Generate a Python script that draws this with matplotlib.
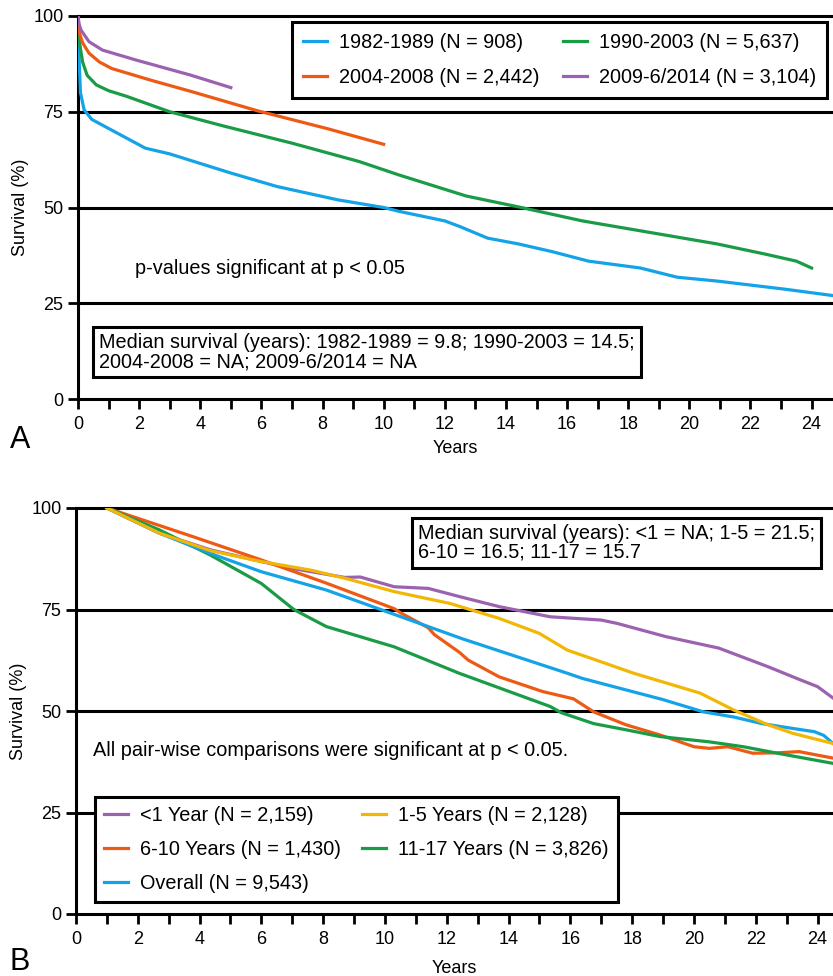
import matplotlib
matplotlib.use("Agg")
import matplotlib.pyplot as plt
from matplotlib.ticker import MultipleLocator
from matplotlib.lines import Line2D

plt.rcParams['font.family'] = ['Liberation Sans', 'DejaVu Sans']

# ---------------- Panel A data ----------------
a_labels = ["1982-1989 (N = 908)", "1990-2003 (N = 5,637)",
            "2004-2008 (N = 2,442)", "2009-6/2014 (N = 3,104)"]
a_1982_t = [0, 0.03, 0.08, 0.2, 0.45, 0.8, 1.5, 2.2, 3.0, 4.0, 5.0, 6.5, 8.5, 10.0, 10.5,
            12.0, 12.5, 13.4, 14.4, 15.5, 16.7, 18.4, 19.6, 20.9, 23.1, 24.7]
a_1982_s = [100, 90, 80, 75.5, 73, 71.5, 68.5, 65.5, 64, 61.5, 59, 55.5, 52, 50, 49,
            46.5, 45, 42, 40.5, 38.5, 36, 34.2, 31.8, 30.8, 28.7, 27]
a_1990_t = [0, 0.05, 0.15, 0.3, 0.6, 1.0, 1.6, 3.0, 4.8, 7.0, 9.2, 10.5, 12.7, 14.5,
            16.5, 18.7, 20.9, 22.5, 23.5, 24.0]
a_1990_s = [100, 93, 88, 84.5, 82, 80.5, 79, 75, 71.2, 66.8, 62, 58.5, 53, 50,
            46.5, 43.5, 40.5, 37.8, 36, 34.2]
a_2004_t = [0, 0.05, 0.15, 0.36, 0.7, 1.1, 2.4, 3.7, 5.85, 8.2, 10.0]
a_2004_s = [100, 95.5, 93, 90.3, 88, 86.3, 83.2, 80.3, 75.3, 70.5, 66.5]
a_2009_t = [0, 0.03, 0.1, 0.36, 0.8, 1.9, 3.67, 5.0]
a_2009_s = [100, 98, 96.3, 93.3, 91.1, 88.5, 84.6, 81.3]

# ---------------- Panel B data ----------------
b_labels = ["<1 Year (N = 2,159)", "1-5 Years (N = 2,128)", "6-10 Years (N = 1,430)",
            "11-17 Years (N = 3,826)", "Overall (N = 9,543)"]
b_lt1_t = [1, 2.7, 4.35, 6, 7, 8.7, 9.2, 10.3, 11.4, 12.4, 13.7, 15.35, 17, 17.5, 19.1,
           20.8, 22.4, 23.4, 24.0, 24.5]
b_lt1_s = [100, 93.8, 89.7, 86.8, 85.1, 82.9, 83, 80.6, 80.2, 78.2, 75.7, 73.2, 72.4, 71.6,
           68.3, 65.5, 60.9, 57.8, 56, 53.2]
b_1to5_t = [1, 2.7, 4.35, 6, 7.6, 8.7, 10.3, 12.1, 13.7, 15.0, 15.9, 17.0, 18.05, 20.2,
            21.3, 22.4, 23.2, 24.5]
b_1to5_s = [100, 93.8, 89.5, 86.8, 84.7, 82.7, 79.4, 76.5, 72.8, 69.1, 65.0, 62.1, 59.3,
            54.4, 50.2, 46.6, 44.5, 42.0]
b_6to10_t = [1, 3.8, 6, 8.1, 10.3, 10.5, 11.4, 11.6, 12.4, 12.7, 13.7, 15.1, 16.1, 16.75,
             17.8, 18.9, 20.0, 20.5, 21.1, 21.9, 22.7, 23.4, 24.5]
b_6to10_s = [100, 92.9, 87.2, 81.5, 75.2, 74.2, 70.5, 68.8, 64.5, 62.5, 58.4, 54.8, 53.0,
             49.8, 46.6, 44.1, 41.2, 40.8, 41.2, 39.6, 39.7, 40.0, 38.4]
b_11to17_t = [1, 2.7, 4.35, 6, 7.05, 8.1, 10.3, 12.4, 15.35, 15.7, 16.4, 16.75, 17.85,
              18.9, 20.5, 21.6, 22.7, 24.5]
b_11to17_s = [100, 94.6, 88.4, 81.4, 75, 70.8, 65.8, 59.3, 51.1, 49.6, 47.8, 46.9, 45.3,
              43.7, 42.4, 41.2, 39.6, 37.1]
b_all_t = [1, 2.7, 4.35, 6, 8.1, 10.3, 12.5, 15.9, 16.4, 19.0, 20.3, 21.3, 22.2, 23.2,
           23.9, 24.2, 24.5]
b_all_s = [100, 93.8, 88.8, 84.3, 79.8, 73.8, 67.8, 59.3, 58, 52.8, 49.8, 48.5, 46.9,
           45.7, 44.9, 44.0, 42.0]

yticks = [0, 25, 50, 75, 100]

C_BLUE = "#14a3e6"
C_GREEN = "#1a9b46"
C_ORANGE = "#ee5a14"
C_PURPLE = "#9b62b0"
C_YELLOW = "#f2b705"

LW = 2.3
FS = 14.3

fig = plt.figure(figsize=(8.33, 9.76), dpi=100)
W, H = 833.0, 976.0

axA = fig.add_axes([78 / W, 1 - 399 / H, (833 - 78) / W, (399 - 16) / H])
axB = fig.add_axes([76 / W, 1 - 914 / H, (833 - 76) / W, (914 - 508) / H])


def style(ax, xmax, xlabelpad):
    ax.set_xlim(0, xmax)
    ax.set_ylim(0, 100)
    for s in ["top", "right"]:
        ax.spines[s].set_visible(False)
    for s in ["left", "bottom"]:
        ax.spines[s].set_linewidth(2.2)
        ax.spines[s].set_color("black")
    for y in [25, 50, 75, 100]:
        ax.axhline(y, color="black", lw=2.2, clip_on=False, zorder=1)
    ax.xaxis.set_major_locator(MultipleLocator(2))
    ax.xaxis.set_minor_locator(MultipleLocator(1))
    ax.set_yticks(yticks)
    ax.tick_params(axis="both", which="both", direction="out", length=7, width=2,
                   labelsize=13, color="black")
    ax.tick_params(axis="x", pad=5)
    ax.set_xlabel("Years", fontsize=13, labelpad=xlabelpad)
    ax.set_ylabel("Survival (%)", fontsize=13, labelpad=3)


style(axA, 24.7, 5)
style(axB, 24.5, 9)

# Panel A curves
axA.plot(a_1982_t, a_1982_s, color=C_BLUE, lw=LW, zorder=3, solid_joinstyle="round")
axA.plot(a_1990_t, a_1990_s, color=C_GREEN, lw=LW, zorder=3, solid_joinstyle="round")
axA.plot(a_2004_t, a_2004_s, color=C_ORANGE, lw=LW, zorder=3, solid_joinstyle="round")
axA.plot(a_2009_t, a_2009_s, color=C_PURPLE, lw=LW, zorder=3, solid_joinstyle="round")

hA = [Line2D([], [], color=c, lw=LW) for c in [C_BLUE, C_ORANGE, C_GREEN, C_PURPLE]]
labA = [a_labels[0], a_labels[2], a_labels[1], a_labels[3]]
legA = axA.legend(hA, labA, ncol=2, loc="upper right", bbox_to_anchor=(0.992, 0.984),
                  fontsize=FS, frameon=True, fancybox=False, framealpha=1,
                  edgecolor="black", handlelength=1.2, handletextpad=0.6,
                  columnspacing=1.2, borderpad=0.55, labelspacing=0.8,
                  borderaxespad=0)
legA.get_frame().set_linewidth(2.2)
legA.set_zorder(5)

axA.text((135 - 78) / 755, (399 - 268) / 383, "p-values significant at p < 0.05",
         transform=axA.transAxes, fontsize=FS, va="center", ha="left")
axA.text((99 - 78) / 755, (399 - 352) / 383,
         "Median survival (years): 1982-1989 = 9.8; 1990-2003 = 14.5;\n"
         "2004-2008 = NA; 2009-6/2014 = NA",
         transform=axA.transAxes, fontsize=FS, va="center", ha="left", linespacing=1.0,
         bbox=dict(boxstyle="square,pad=0.3", fc="white", ec="black", lw=2.2), zorder=5)

# Panel B curves
axB.plot(b_lt1_t, b_lt1_s, color=C_PURPLE, lw=LW, zorder=3, solid_joinstyle="round")
axB.plot(b_6to10_t, b_6to10_s, color=C_ORANGE, lw=LW, zorder=3, solid_joinstyle="round")
axB.plot(b_11to17_t, b_11to17_s, color=C_GREEN, lw=LW, zorder=3, solid_joinstyle="round")
axB.plot(b_all_t, b_all_s, color=C_BLUE, lw=LW, zorder=3, solid_joinstyle="round")
axB.plot(b_1to5_t, b_1to5_s, color=C_YELLOW, lw=LW, zorder=3, solid_joinstyle="round")

hB = [Line2D([], [], color=c, lw=LW) for c in [C_PURPLE, C_ORANGE, C_BLUE, C_YELLOW, C_GREEN]]
labB = [b_labels[0], b_labels[2], b_labels[4], b_labels[1], b_labels[3]]
legB = axB.legend(hB, labB, ncol=2, loc="lower left", bbox_to_anchor=(0.025, 0.03),
                  fontsize=FS, frameon=True, fancybox=False, framealpha=1,
                  edgecolor="black", handlelength=1.2, handletextpad=0.6,
                  columnspacing=1.1, borderpad=0.45, labelspacing=0.75,
                  borderaxespad=0)
legB.get_frame().set_linewidth(2.2)
legB.set_zorder(5)

axB.text((93 - 76) / 757, (914 - 750) / 406,
         "All pair-wise comparisons were significant at p < 0.05.",
         transform=axB.transAxes, fontsize=FS, va="center", ha="left")
axB.text((418 - 76) / 757, (914 - 543) / 406,
         "Median survival (years): <1 = NA; 1-5 = 21.5;\n6-10 = 16.5; 11-17 = 15.7",
         transform=axB.transAxes, fontsize=FS, va="center", ha="left", linespacing=1.0,
         bbox=dict(boxstyle="square,pad=0.3", fc="white", ec="black", lw=2.2), zorder=5)

fig.text(20 / W, 1 - 440 / H, "A", fontsize=22, ha="center", va="center")
fig.text(20 / W, 1 - 962 / H, "B", fontsize=22, ha="center", va="center")

fig.savefig("out.png", dpi=100)
